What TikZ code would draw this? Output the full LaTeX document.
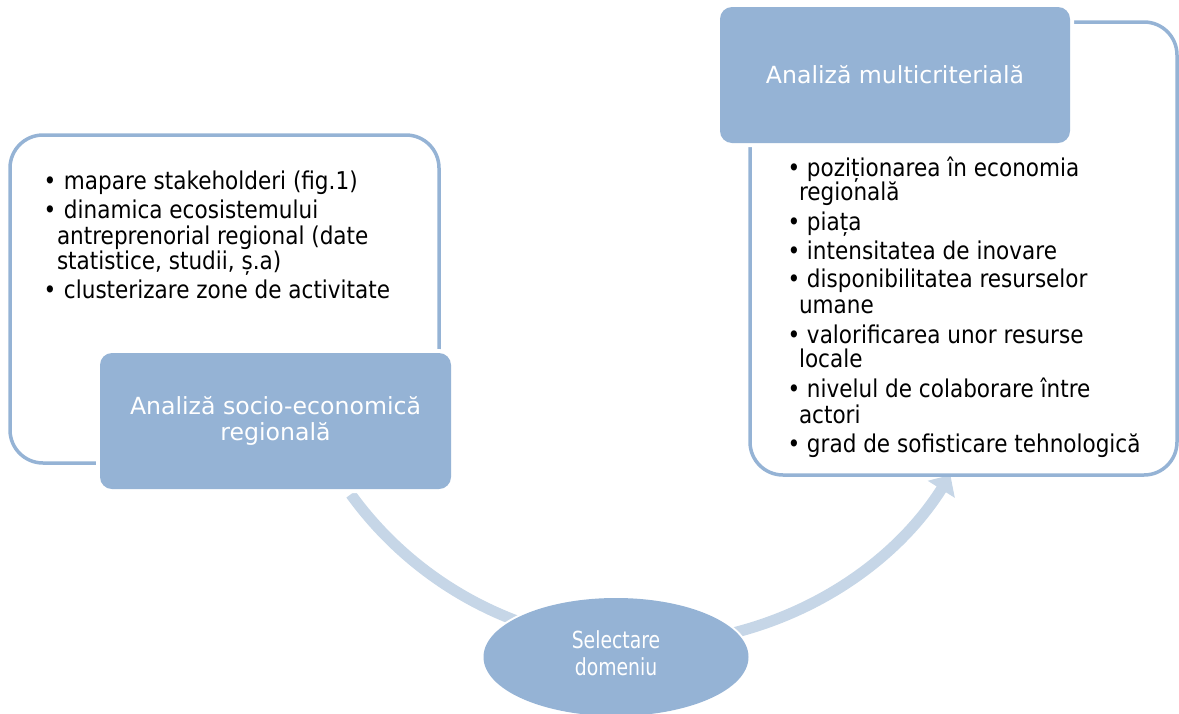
\documentclass[tikz,border=0pt]{standalone}
\usepackage{fontspec}
\setmainfont{DejaVu Sans}[FakeStretch=0.88]
\newfontfamily\titlefont{DejaVu Sans}
\newfontfamily\ellfont{DejaVu Sans}[FakeStretch=0.8]
\usetikzlibrary{arrows.meta,shapes.geometric}
\definecolor{boxblue}{RGB}{149,179,213}
\definecolor{arcblue}{RGB}{198,214,231}
\begin{document}
\begin{tikzpicture}[x=1pt,y=-1pt,
  outlinebox/.style={draw=boxblue, line width=3.5pt, rounded corners=33pt, fill=white,
    inner sep=0pt, outer sep=0pt, anchor=north west},
  filledbox/.style={fill=boxblue, preaction={draw=white, line width=8pt},
    rounded corners=12pt, inner sep=0pt, outer sep=0pt, anchor=north west,
    text=white, align=center, font=\titlefont\fontsize{23.6}{26.5}\selectfont},
  itemline/.style={anchor=base west, inner sep=0pt, outer sep=0pt,
    font=\fontsize{24.5}{26}\selectfont, text=black},
  arcarrow/.style={draw=arcblue, line width=11pt, -{Triangle[width=31pt,length=17pt]}},
  ellnode/.style={ellipse, fill=boxblue, preaction={draw=white, line width=4pt},
    inner sep=0pt, outer sep=0pt},
  elltext/.style={text=white, align=center, inner sep=0pt,
    font=\ellfont\fontsize{23.5}{27}\selectfont}
]
\useasboundingbox (0,0) rectangle (1179,713);

% cycle arrow
\coordinate (arcS) at (350.8,494.3);
\draw[arcarrow] (arcS) arc[start angle=144.1, end angle=32.2, radius=362];

% outline boxes
\node[outlinebox, minimum width=429pt, minimum height=328pt] (lout) at (10,135) {};
\node[outlinebox, minimum width=427pt, minimum height=453pt] (rout) at (750,22) {};

% filled title boxes
\node[filledbox, minimum width=351pt, minimum height=136pt] (socio) at (100,353)
  {Analiză socio-economică\\regională};
\node[filledbox, minimum width=350pt, minimum height=136pt] (multi) at (720,7)
  {Analiză multicriterială};

% ellipse
\node[ellnode, minimum width=265pt, minimum height=118pt] (sel) at (616,657) {};
\node[elltext] (seltxt) at (616,653.5) {Selectare\\domeniu};

% left list
\node[itemline] (l1) at (43.6,189.5) {\makebox[20.4pt][l]{•}mapare stakeholderi (fig.1)};
\node[itemline] (l2) at (43.6,218.5) {\makebox[20.4pt][l]{•}dinamica ecosistemului};
\node[itemline] (l3) at (57,244) {antreprenorial regional (date};
\node[itemline] (l4) at (57,269) {statistice, studii, ș.a)};
\node[itemline] (l5) at (43.6,298) {\makebox[20.4pt][l]{•}clusterizare zone de activitate};

% right list
\node[itemline] (r1) at (787.6,176) {\makebox[19.4pt][l]{•}poziționarea în economia};
\node[itemline] (r2) at (799,200) {regională};
\node[itemline] (r3) at (787.6,230) {\makebox[19.4pt][l]{•}piața};
\node[itemline] (r4) at (787.6,259) {\makebox[19.4pt][l]{•}intensitatea de inovare};
\node[itemline] (r5) at (787.6,287) {\makebox[19.4pt][l]{•}disponibilitatea resurselor};
\node[itemline] (r6) at (799,313) {umane};
\node[itemline] (r7) at (787.6,343) {\makebox[19.4pt][l]{•}valorificarea unor resurse};
\node[itemline] (r8) at (799,367) {locale};
\node[itemline] (r9) at (787.6,397) {\makebox[19.4pt][l]{•}nivelul de colaborare între};
\node[itemline] (r10) at (799,423) {actori};
\node[itemline] (r11) at (787.6,452) {\makebox[19.4pt][l]{•}grad de sofisticare tehnologică};
\end{tikzpicture}
\end{document}
